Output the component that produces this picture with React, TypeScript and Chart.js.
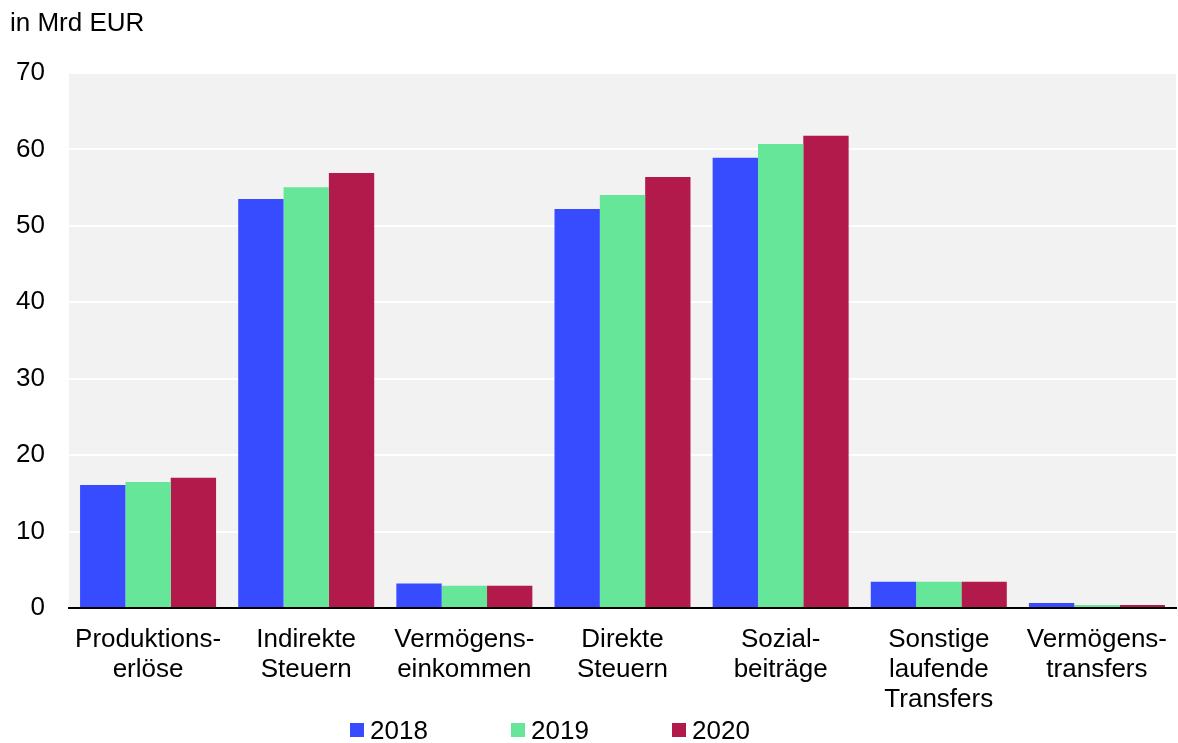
import React, { useEffect, useRef } from "react";
import { Chart, registerables } from "chart.js";

Chart.register(...registerables);

const categories: string[][] = [
  ["Produktions-", "erlöse"],
  ["Indirekte", "Steuern"],
  ["Vermögens-", "einkommen"],
  ["Direkte", "Steuern"],
  ["Sozial-", "beiträge"],
  ["Sonstige", "laufende", "Transfers"],
  ["Vermögens-", "transfers"],
];
const values2018 = [16.1, 53.5, 3.2, 52.2, 58.9, 3.45, 0.65];
const values2019 = [16.5, 55.05, 2.9, 54.05, 60.7, 3.45, 0.4];
const values2020 = [17.05, 56.9, 2.9, 56.4, 61.8, 3.45, 0.4];
const seriesLabels = ["2018", "2019", "2020"];
const seriesColors = ["#374cff", "#66e699", "#b21a4c"];
const yMin = 0;
const yMax = 70;
const yStep = 10;

const FONT = "'Liberation Sans', Arial, sans-serif";
const FS = 26;

const bgPlugin = {
  id: "plotBg",
  beforeDraw(chart: any) {
    const { ctx, chartArea } = chart;
    if (!chartArea) return;
    ctx.save();
    ctx.fillStyle = "#f2f2f2";
    ctx.fillRect(chartArea.left, chartArea.top, chartArea.right - chartArea.left, chartArea.bottom - chartArea.top);
    ctx.restore();
  },
};

export default function App() {
  const ref = useRef<HTMLCanvasElement>(null);
  useEffect(() => {
    if (!ref.current) return;
    const data = [values2018, values2019, values2020];
    const chart = new Chart(ref.current, {
      type: "bar",
      data: {
        labels: categories,
        datasets: data.map((d, i) => ({
          label: seriesLabels[i],
          data: d,
          backgroundColor: seriesColors[i],
          borderWidth: 0,
          categoryPercentage: 0.86,
          barPercentage: 1.0,
        })),
      },
      options: {
        animation: false,
        responsive: false,
        maintainAspectRatio: false,
        layout: { padding: { left: 0, top: 73, right: 2, bottom: 0 } },
        plugins: {
          legend: { display: false },
          tooltip: { enabled: false },
          title: { display: false },
        },
        scales: {
          x: {
            grid: { display: false, drawTicks: false },
            border: { display: true, color: "#000000", width: 2 },
            ticks: {
              color: "#000000",
              font: { family: FONT, size: FS, lineHeight: 30 / FS },
              padding: 17,
              maxRotation: 0,
              autoSkip: false,
            },
            afterFit(scale: any) {
              scale.height = 135;
              scale.paddingLeft = 0;
              scale.paddingRight = 0;
            },
          },
          y: {
            min: yMin,
            max: yMax,
            grid: { color: "#ffffff", lineWidth: 2, drawTicks: false },
            border: { display: false },
            ticks: {
              stepSize: yStep,
              color: "#000000",
              font: { family: FONT, size: FS },
              padding: 24,
            },
            afterFit(scale: any) {
              scale.width = 69;
              scale.paddingTop = 0;
              scale.paddingBottom = 0;
            },
          },
        },
      },
      plugins: [bgPlugin],
    });
    return () => chart.destroy();
  }, []);

  const legendPos = [350, 511, 672];
  return (
    <div style={{ position: "fixed", left: 0, top: 0, width: 1178, height: 743, background: "#fff", fontFamily: FONT }}>
      <canvas ref={ref} width={1178} height={743} style={{ position: "absolute", left: 0, top: 0, width: 1178, height: 743 }} />
      <div style={{ position: "absolute", left: 10, top: 7, fontSize: FS, lineHeight: "30px", color: "#000" }}>in Mrd EUR</div>
      {seriesLabels.map((s, i) => (
        <div key={s} style={{ position: "absolute", left: legendPos[i], top: 715, height: 30, display: "flex", alignItems: "center", fontSize: FS, lineHeight: "30px", color: "#000" }}>
          <span style={{ display: "inline-block", width: 14, height: 14, background: seriesColors[i], marginRight: 6 }} />
          <span>{s}</span>
        </div>
      ))}
    </div>
  );
}
